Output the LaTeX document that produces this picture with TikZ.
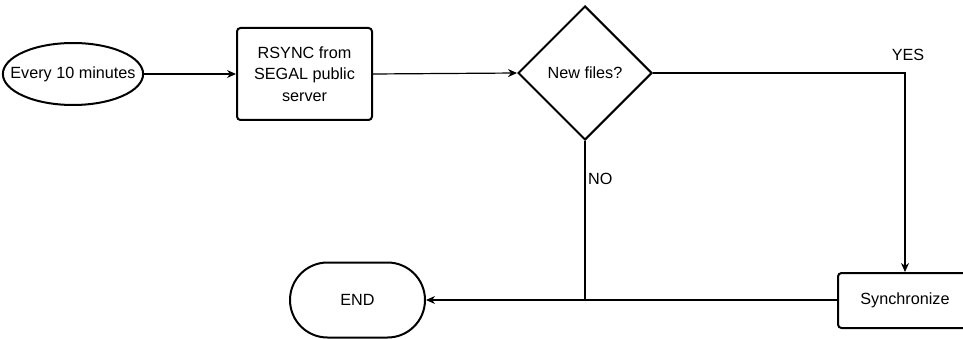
\documentclass[tikz,border=0pt]{standalone}
\usepackage{fontspec}
\setmainfont{Liberation Sans}
\usetikzlibrary{shapes.geometric,shapes.misc,arrows.meta}
\begin{document}
\begin{tikzpicture}[x=1pt,y=-1pt,
  every node/.style={font=\fontsize{16.2}{21.5}\selectfont, inner sep=0pt},
  shapeline/.style={draw=black, line width=2pt, fill=white},
  startbox/.style={shapeline, ellipse, inner xsep=-13pt, minimum width=140, minimum height=62},
  procbox/.style={shapeline, rectangle, rounded corners=3.5, align=center},
  choice/.style={shapeline, diamond, minimum width=134, minimum height=134},
  endbox/.style={shapeline, rounded rectangle, minimum width=135, minimum height=75},
  flow/.style={draw=black, line width=1.2pt},
  flowarrow/.style={flow, -{Stealth[length=9pt,width=8pt]}},
  tag/.style={font=\fontsize{16.2}{18}\selectfont}
]
\useasboundingbox (0,0) rectangle (963,339);
\clip (0,0) rectangle (963,339);

% process nodes
\node[startbox] (start) at (73,74) {Every 10 minutes};
\node[procbox, minimum width=135, minimum height=92] (rsync) at (304.5,74) {RSYNC from\\SEGAL public\\server};
\node[choice] (check) at (585,73) {New files?};
\node[procbox, minimum width=134, minimum height=55] (sync) at (905,300.5) {Synchronize};
\node[endbox] (finish) at (357.5,300) {END};

% junction points of the connectors
\coordinate (yescorner) at (905,73);
\coordinate (nojoin) at (585,300);

% connectors
\draw[flowarrow] (start.east) -- (rsync.west);
\draw[flowarrow] (rsync.east) -- (check.west);
\draw[flowarrow] (check.east) -- (yescorner) -- (sync.north);
\draw[flowarrow] (sync.west |- finish.east) -- (finish.east);
\draw[flow] (check.south) -- (nojoin);

% branch labels
\node[tag] (yes) at (908,55) {YES};
\node[tag, anchor=west] (no) at (588,179) {NO};
\end{tikzpicture}
\end{document}
